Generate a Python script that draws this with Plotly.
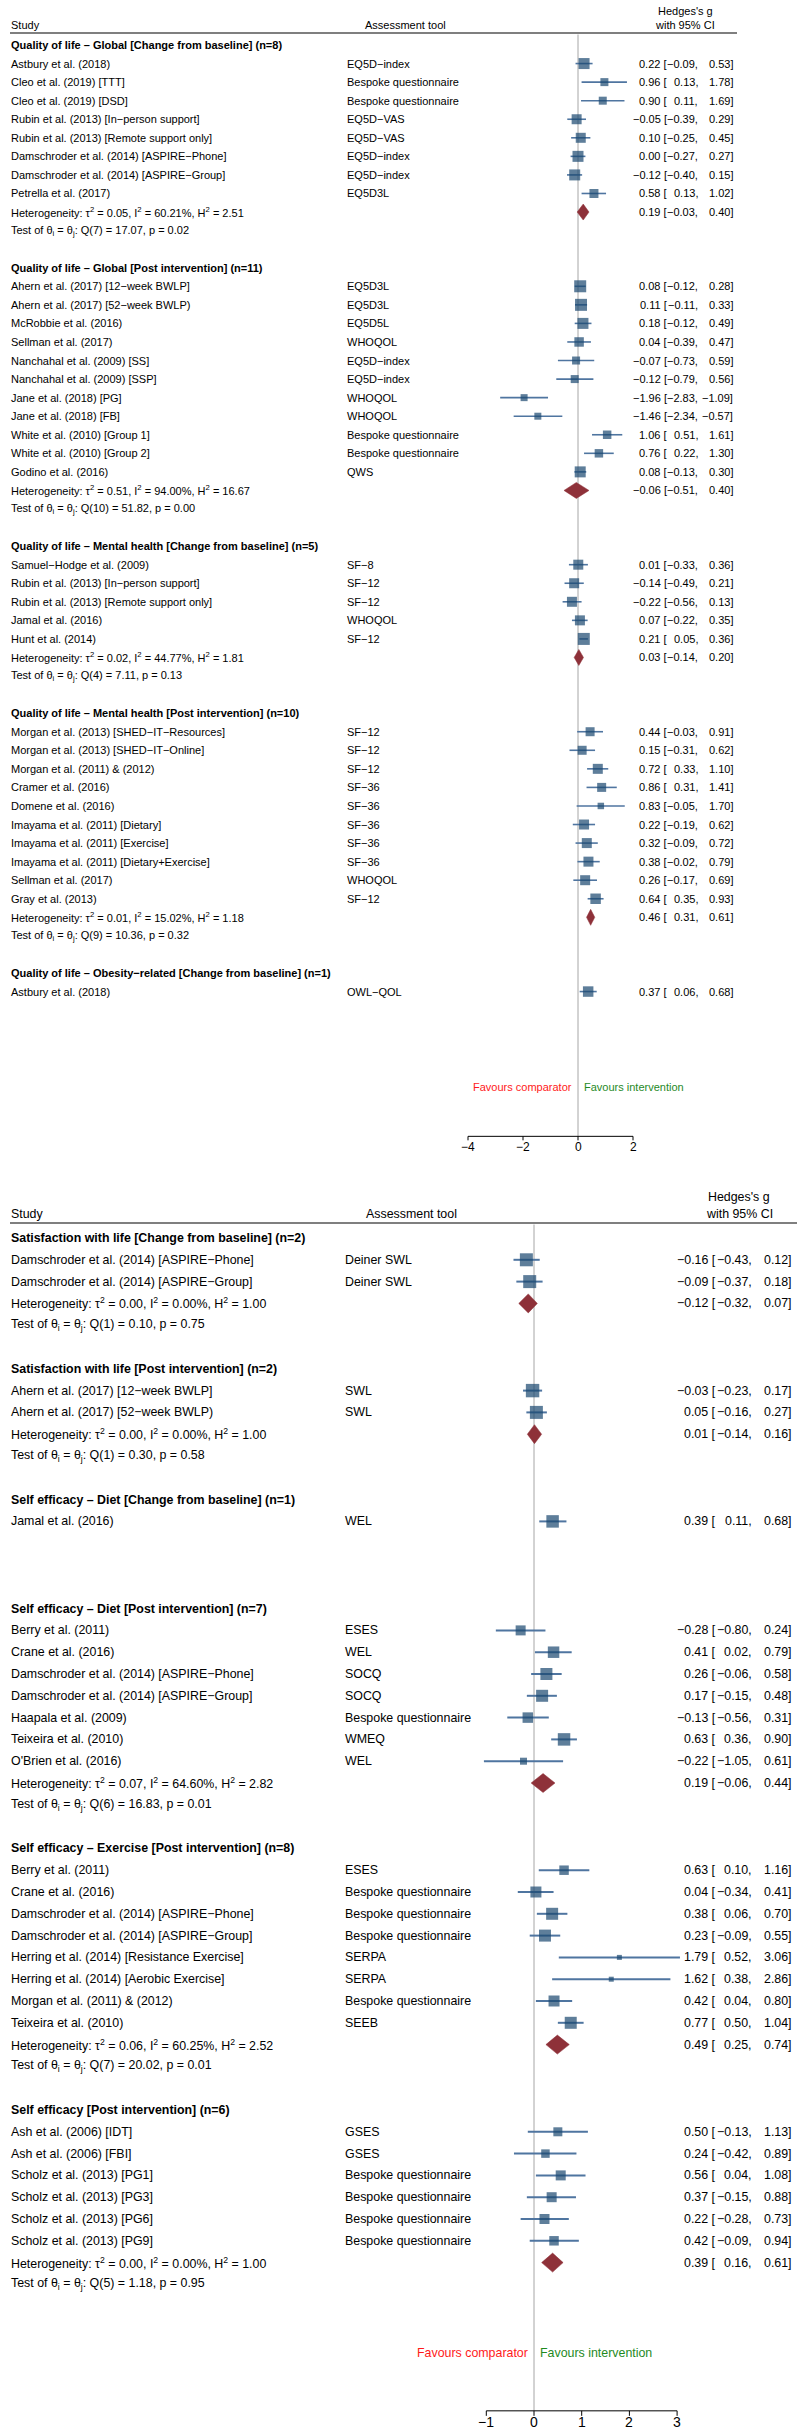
import plotly.graph_objects as go

M = "\u2212"

# ================= TOP PANEL DATA =================
t1_title = "Quality of life – Global [Change from baseline] (n=8)"
t1_study = ["Astbury et al. (2018)", "Cleo et al. (2019) [TTT]", "Cleo et al. (2019) [DSD]",
            f"Rubin et al. (2013) [In{M}person support]", "Rubin et al. (2013) [Remote support only]",
            f"Damschroder et al. (2014) [ASPIRE{M}Phone]", f"Damschroder et al. (2014) [ASPIRE{M}Group]",
            "Petrella et al. (2017)"]
t1_tool = [f"EQ5D{M}index", "Bespoke questionnaire", "Bespoke questionnaire", f"EQ5D{M}VAS", f"EQ5D{M}VAS",
           f"EQ5D{M}index", f"EQ5D{M}index", "EQ5D3L"]
t1_g = [0.22, 0.96, 0.90, -0.05, 0.10, 0.00, -0.12, 0.58]
t1_lo = [-0.09, 0.13, 0.11, -0.39, -0.25, -0.27, -0.40, 0.13]
t1_hi = [0.53, 1.78, 1.69, 0.29, 0.45, 0.27, 0.15, 1.02]
t1_w = [121, 64, 64, 100, 100, 121, 121, 81]
t1_pool = [0.19, -0.03, 0.40]
t1_het = ["0.05", "60.21", "2.51"]
t1_q = ["7", "17.07", "0.02"]

t2_title = "Quality of life – Global [Post intervention] (n=11)"
t2_study = [f"Ahern et al. (2017) [12{M}week BWLP]", f"Ahern et al. (2017) [52{M}week BWLP)",
            "McRobbie et al. (2016)", "Sellman et al. (2017)", "Nanchahal et al. (2009) [SS]",
            "Nanchahal et al. (2009) [SSP]", "Jane et al. (2018) [PG]", "Jane et al. (2018) [FB]",
            "White et al. (2010) [Group 1]", "White et al. (2010) [Group 2]", "Godino et al. (2016)"]
t2_tool = ["EQ5D3L", "EQ5D3L", "EQ5D5L", "WHOQOL", f"EQ5D{M}index", f"EQ5D{M}index", "WHOQOL", "WHOQOL",
           "Bespoke questionnaire", "Bespoke questionnaire", "QWS"]
t2_g = [0.08, 0.11, 0.18, 0.04, -0.07, -0.12, -1.96, -1.46, 1.06, 0.76, 0.08]
t2_lo = [-0.12, -0.11, -0.12, -0.39, -0.73, -0.79, -2.83, -2.34, 0.51, 0.22, -0.13]
t2_hi = [0.28, 0.33, 0.49, 0.47, 0.59, 0.56, -1.09, -0.57, 1.61, 1.30, 0.30]
t2_w = [144, 144, 121, 90, 64, 64, 49, 49, 72, 72, 121]
t2_pool = [-0.06, -0.51, 0.40]
t2_het = ["0.51", "94.00", "16.67"]
t2_q = ["10", "51.82", "0.00"]

t3_title = "Quality of life – Mental health [Change from baseline] (n=5)"
t3_study = [f"Samuel{M}Hodge et al. (2009)", f"Rubin et al. (2013) [In{M}person support]",
            "Rubin et al. (2013) [Remote support only]", "Jamal et al. (2016)", "Hunt et al. (2014)"]
t3_tool = [f"SF{M}8", f"SF{M}12", f"SF{M}12", "WHOQOL", f"SF{M}12"]
t3_g = [0.01, -0.14, -0.22, 0.07, 0.21]
t3_lo = [-0.33, -0.49, -0.56, -0.22, 0.05]
t3_hi = [0.36, 0.21, 0.13, 0.35, 0.36]
t3_w = [100, 100, 100, 100, 144]
t3_pool = [0.03, -0.14, 0.20]
t3_het = ["0.02", "44.77", "1.81"]
t3_q = ["4", "7.11", "0.13"]

t4_title = "Quality of life – Mental health [Post intervention] (n=10)"
t4_study = [f"Morgan et al. (2013) [SHED{M}IT{M}Resources]", f"Morgan et al. (2013) [SHED{M}IT{M}Online]",
            "Morgan et al. (2011) & (2012)", "Cramer et al. (2016)", "Domene et al. (2016)",
            "Imayama et al. (2011) [Dietary]", "Imayama et al. (2011) [Exercise]",
            "Imayama et al. (2011) [Dietary+Exercise]", "Sellman et al. (2017)", "Gray et al. (2013)"]
t4_tool = [f"SF{M}12", f"SF{M}12", f"SF{M}12", f"SF{M}36", f"SF{M}36", f"SF{M}36", f"SF{M}36", f"SF{M}36",
           "WHOQOL", f"SF{M}12"]
t4_g = [0.44, 0.15, 0.72, 0.86, 0.83, 0.22, 0.32, 0.38, 0.26, 0.64]
t4_lo = [-0.03, -0.31, 0.33, 0.31, -0.05, -0.19, -0.09, -0.02, -0.17, 0.35]
t4_hi = [0.91, 0.62, 1.10, 1.41, 1.70, 0.62, 0.72, 0.79, 0.69, 0.93]
t4_w = [81, 81, 100, 81, 42, 100, 100, 100, 100, 110]
t4_pool = [0.46, 0.31, 0.61]
t4_het = ["0.01", "15.02", "1.18"]
t4_q = ["9", "10.36", "0.32"]

t5_title = f"Quality of life – Obesity{M}related [Change from baseline] (n=1)"
t5_study = ["Astbury et al. (2018)"]
t5_tool = [f"OWL{M}QOL"]
t5_g = [0.37]
t5_lo = [0.06]
t5_hi = [0.68]
t5_w = [110]

top_ticks = [-4, -2, 0, 2]

# ================= BOTTOM PANEL DATA =================
b1_title = "Satisfaction with life [Change from baseline] (n=2)"
b1_study = [f"Damschroder et al. (2014) [ASPIRE{M}Phone]", f"Damschroder et al. (2014) [ASPIRE{M}Group]"]
b1_tool = ["Deiner SWL", "Deiner SWL"]
b1_g = [-0.16, -0.09]
b1_lo = [-0.43, -0.37]
b1_hi = [0.12, 0.18]
b1_w = [169, 169]
b1_pool = [-0.12, -0.32, 0.07]
b1_het = ["0.00", "0.00", "1.00"]
b1_q = ["1", "0.10", "0.75"]

b2_title = "Satisfaction with life [Post intervention] (n=2)"
b2_study = [f"Ahern et al. (2017) [12{M}week BWLP]", f"Ahern et al. (2017) [52{M}week BWLP)"]
b2_tool = ["SWL", "SWL"]
b2_g = [-0.03, 0.05]
b2_lo = [-0.23, -0.16]
b2_hi = [0.17, 0.27]
b2_w = [180, 169]
b2_pool = [0.01, -0.14, 0.16]
b2_het = ["0.00", "0.00", "1.00"]
b2_q = ["1", "0.30", "0.58"]

b3_title = "Self efficacy – Diet [Change from baseline] (n=1)"
b3_study = ["Jamal et al. (2016)"]
b3_tool = ["WEL"]
b3_g = [0.39]
b3_lo = [0.11]
b3_hi = [0.68]
b3_w = [156]

b4_title = "Self efficacy – Diet [Post intervention] (n=7)"
b4_study = ["Berry et al. (2011)", "Crane et al. (2016)", f"Damschroder et al. (2014) [ASPIRE{M}Phone]",
            f"Damschroder et al. (2014) [ASPIRE{M}Group]", "Haapala et al. (2009)", "Teixeira et al. (2010)",
            "O'Brien et al. (2016)"]
b4_tool = ["ESES", "WEL", "SOCQ", "SOCQ", "Bespoke questionnaire", "WMEQ", "WEL"]
b4_g = [-0.28, 0.41, 0.26, 0.17, -0.13, 0.63, -0.22]
b4_lo = [-0.80, 0.02, -0.06, -0.15, -0.56, 0.36, -1.05]
b4_hi = [0.24, 0.79, 0.58, 0.48, 0.31, 0.90, 0.61]
b4_w = [100, 132, 144, 144, 110, 156, 49]
b4_pool = [0.19, -0.06, 0.44]
b4_het = ["0.07", "64.60", "2.82"]
b4_q = ["6", "16.83", "0.01"]

b5_title = "Self efficacy – Exercise [Post intervention] (n=8)"
b5_study = ["Berry et al. (2011)", "Crane et al. (2016)", f"Damschroder et al. (2014) [ASPIRE{M}Phone]",
            f"Damschroder et al. (2014) [ASPIRE{M}Group]", "Herring et al. (2014) [Resistance Exercise]",
            "Herring et al. (2014) [Aerobic Exercise]", "Morgan et al. (2011) & (2012)", "Teixeira et al. (2010)"]
b5_tool = ["ESES", "Bespoke questionnaire", "Bespoke questionnaire", "Bespoke questionnaire", "SERPA", "SERPA",
           "Bespoke questionnaire", "SEEB"]
b5_g = [0.63, 0.04, 0.38, 0.23, 1.79, 1.62, 0.42, 0.77]
b5_lo = [0.10, -0.34, 0.06, -0.09, 0.52, 0.38, 0.04, 0.50]
b5_hi = [1.16, 0.41, 0.70, 0.55, 3.06, 2.86, 0.80, 1.04]
b5_w = [90, 121, 144, 144, 25, 25, 121, 144]
b5_pool = [0.49, 0.25, 0.74]
b5_het = ["0.06", "60.25", "2.52"]
b5_q = ["7", "20.02", "0.01"]

b6_title = "Self efficacy [Post intervention] (n=6)"
b6_study = ["Ash et al. (2006) [IDT]", "Ash et al. (2006) [FBI]", "Scholz et al. (2013) [PG1]",
            "Scholz et al. (2013) [PG3]", "Scholz et al. (2013) [PG6]", "Scholz et al. (2013) [PG9]"]
b6_tool = ["GSES", "GSES", "Bespoke questionnaire", "Bespoke questionnaire", "Bespoke questionnaire",
           "Bespoke questionnaire"]
b6_g = [0.50, 0.24, 0.56, 0.37, 0.22, 0.42]
b6_lo = [-0.13, -0.42, 0.04, -0.15, -0.28, -0.09]
b6_hi = [1.13, 0.89, 1.08, 0.88, 0.73, 0.94]
b6_w = [81, 72, 100, 100, 100, 90]
b6_pool = [0.39, 0.16, 0.61]
b6_het = ["0.00", "0.00", "1.00"]
b6_q = ["5", "1.18", "0.95"]

bottom_ticks = [-1, 0, 1, 2, 3]

top_sections = [
    (t1_title, t1_study, t1_tool, t1_g, t1_lo, t1_hi, t1_w, t1_pool, t1_het, t1_q),
    (t2_title, t2_study, t2_tool, t2_g, t2_lo, t2_hi, t2_w, t2_pool, t2_het, t2_q),
    (t3_title, t3_study, t3_tool, t3_g, t3_lo, t3_hi, t3_w, t3_pool, t3_het, t3_q),
    (t4_title, t4_study, t4_tool, t4_g, t4_lo, t4_hi, t4_w, t4_pool, t4_het, t4_q),
    (t5_title, t5_study, t5_tool, t5_g, t5_lo, t5_hi, t5_w, None, None, None),
]
bottom_sections = [
    (b1_title, b1_study, b1_tool, b1_g, b1_lo, b1_hi, b1_w, b1_pool, b1_het, b1_q),
    (b2_title, b2_study, b2_tool, b2_g, b2_lo, b2_hi, b2_w, b2_pool, b2_het, b2_q),
    (b3_title, b3_study, b3_tool, b3_g, b3_lo, b3_hi, b3_w, None, None, None),
    (b4_title, b4_study, b4_tool, b4_g, b4_lo, b4_hi, b4_w, b4_pool, b4_het, b4_q),
    (b5_title, b5_study, b5_tool, b5_g, b5_lo, b5_hi, b5_w, b5_pool, b5_het, b5_q),
    (b6_title, b6_study, b6_tool, b6_g, b6_lo, b6_hi, b6_w, b6_pool, b6_het, b6_q),
]

# ================= STYLE / GEOMETRY =================
W, H = 800, 2436
FONT = "Liberation Sans, Arial, Helvetica, sans-serif"
BOX = "#1a476f"
CI = "#4f75a0"
DIA = "#8e3139"
ZERO = "#a6a6a6"

top_geo = dict(px0=0, px1=1190, first=45, step=18.56, zero=578, unit=27.5, fs=11, tickfs=12,
               study_x=11, tool_x=347, toolhdr_x=406, est_x=667, lo_x=698, hi_x=733, hg_x=685,
               line_x1=737, hdr1=11, hdr2=25, hline=33, dia_h=8, ci_w=1.6, tick_len=4,
               ticklab=11, fav_gap=5)
bot_geo = dict(px0=1190, px1=2436, first=1238, step=21.8, zero=534, unit=47.7, fs=12.4, tickfs=14,
               study_x=11, tool_x=345, toolhdr_x=411, est_x=716, lo_x=752, hi_x=792, hg_x=739,
               line_x1=797, hdr1=1197, hdr2=1214, hline=1223, dia_h=9.5, ci_w=2, tick_len=5,
               ticklab=11, fav_gap=5)

fig = go.Figure()
annotations = []
shapes = []
layout_axes = {}


def fmt(v):
    return f"{v:.2f}".replace("-", M)


def build(sections, ticks, geo, sfx):
    xr = "x" + sfx
    yr = "y" + sfx
    step = geo["step"]
    unit = geo["unit"]

    def row_of(px):
        return (px - geo["first"]) / step

    layout_axes["xaxis" + sfx] = dict(domain=[0, 1], range=[-geo["zero"] / unit, (W - geo["zero"]) / unit],
                                     visible=False, fixedrange=True, anchor=yr)
    layout_axes["yaxis" + sfx] = dict(domain=[1 - geo["px1"] / H, 1 - geo["px0"] / H],
                                     range=[row_of(geo["px1"]), row_of(geo["px0"])],
                                     visible=False, fixedrange=True, anchor=xr)
    fs = geo["fs"]
    font = dict(family=FONT, size=fs, color="black")

    def txt(x, y, text, xanchor="left", f=None):
        annotations.append(dict(x=x / W, xref="paper", y=y, yref=yr, text=text, showarrow=False,
                                xanchor=xanchor, yanchor="middle", font=f or font,
                                borderpad=0, borderwidth=0))

    # header
    txt(geo["study_x"], row_of(geo["hdr2"]), "Study")
    txt(geo["toolhdr_x"], row_of(geo["hdr2"]), "Assessment tool", "center")
    txt(geo["hg_x"], row_of(geo["hdr1"]), "Hedges's g", "center")
    txt(geo["hg_x"], row_of(geo["hdr2"]), "with 95% CI", "center")
    shapes.append(dict(type="line", xref="paper", yref=yr, x0=10 / W, x1=geo["line_x1"] / W,
                       y0=row_of(geo["hline"]), y1=row_of(geo["hline"]), line=dict(color="#555555", width=1.5)))

    cix, ciy, mx, my, ms = [], [], [], [], []
    row = 0
    for (title, study, tool, g, lo, hi, w, pool, het, q) in sections:
        txt(geo["study_x"], row, f"<b>{title}</b>")
        for i in range(len(study)):
            r = row + 1 + i
            txt(geo["study_x"], r, study[i])
            txt(geo["tool_x"], r, tool[i])
            txt(geo["est_x"], r, f"{fmt(g[i])} [", "right")
            txt(geo["lo_x"], r, f"{fmt(lo[i])},", "right")
            txt(geo["hi_x"], r, f"{fmt(hi[i])}]", "right")
            cix += [lo[i], hi[i], None]
            ciy += [r, r, None]
            mx.append(g[i])
            my.append(r)
            ms.append(w[i] ** 0.5)
        n = len(study)
        if pool is not None:
            rh = row + n + 1
            rt = row + n + 2
            txt(geo["study_x"], rh, f"Heterogeneity: τ<sup>2</sup> = {het[0]}, I<sup>2</sup> = {het[1]}%, H<sup>2</sup> = {het[2]}")
            txt(geo["study_x"], rt, f"Test of θ<sub>i</sub> = θ<sub>j</sub>: Q({q[0]}) = {q[1]}, p = {q[2]}")
            txt(geo["est_x"], rh, f"{fmt(pool[0])} [", "right")
            txt(geo["lo_x"], rh, f"{fmt(pool[1])},", "right")
            txt(geo["hi_x"], rh, f"{fmt(pool[2])}]", "right")
            dh = geo["dia_h"] / step
            fig.add_trace(go.Scatter(x=[pool[1], pool[0], pool[2], pool[0], pool[1]],
                                     y=[rh, rh - dh, rh, rh + dh, rh], mode="lines", fill="toself",
                                     fillcolor=DIA, line=dict(color=DIA, width=0.5), hoverinfo="skip",
                                     xaxis=xr, yaxis=yr))
        row += n + 4

    end = row
    fav_row = end + 1.15
    axis_row = end + 3.8
    shapes.append(dict(type="line", xref=xr, yref=yr, x0=0, x1=0, y0=row_of(geo["hline"] + 1.5), y1=axis_row,
                       line=dict(color=ZERO, width=1), layer="below"))
    fig.add_trace(go.Scatter(x=cix, y=ciy, mode="lines", line=dict(color=CI, width=geo["ci_w"]),
                             hoverinfo="skip", xaxis=xr, yaxis=yr))
    fig.add_trace(go.Scatter(x=mx, y=my, mode="markers",
                             marker=dict(symbol="square", size=ms, color=BOX, line=dict(width=0)),
                             hoverinfo="skip", xaxis=xr, yaxis=yr))
    gap = geo["fav_gap"] / unit
    annotations.append(dict(x=-gap, xref=xr, y=fav_row, yref=yr, text="Favours comparator", showarrow=False,
                            xanchor="right", yanchor="middle", borderpad=0,
                            font=dict(family=FONT, size=fs, color="#ff1a1a")))
    annotations.append(dict(x=gap, xref=xr, y=fav_row, yref=yr, text="Favours intervention", showarrow=False,
                            xanchor="left", yanchor="middle", borderpad=0,
                            font=dict(family=FONT, size=fs, color="#1f8a1f")))
    shapes.append(dict(type="line", xref=xr, yref=yr, x0=min(ticks), x1=max(ticks), y0=axis_row, y1=axis_row,
                       line=dict(color="black", width=1)))
    tl = geo["tick_len"] / step
    for t in ticks:
        shapes.append(dict(type="line", xref=xr, yref=yr, x0=t, x1=t, y0=axis_row, y1=axis_row + tl,
                           line=dict(color="black", width=1)))
        annotations.append(dict(x=t, xref=xr, y=axis_row + geo["ticklab"] / step, yref=yr,
                                text=str(t).replace("-", M), showarrow=False, xanchor="center", yanchor="middle",
                                borderpad=0, font=dict(family=FONT, size=geo["tickfs"], color="black")))


build(top_sections, top_ticks, top_geo, "")
build(bottom_sections, bottom_ticks, bot_geo, "2")

fig.update_layout(width=W, height=H, margin=dict(l=0, r=0, t=0, b=0), plot_bgcolor="white",
                  paper_bgcolor="white", showlegend=False, annotations=annotations, shapes=shapes,
                  **layout_axes)
fig.write_html("out.html", config={"displayModeBar": False},
               post_script="document.body.style.margin='0px';document.body.style.overflow='hidden';")
